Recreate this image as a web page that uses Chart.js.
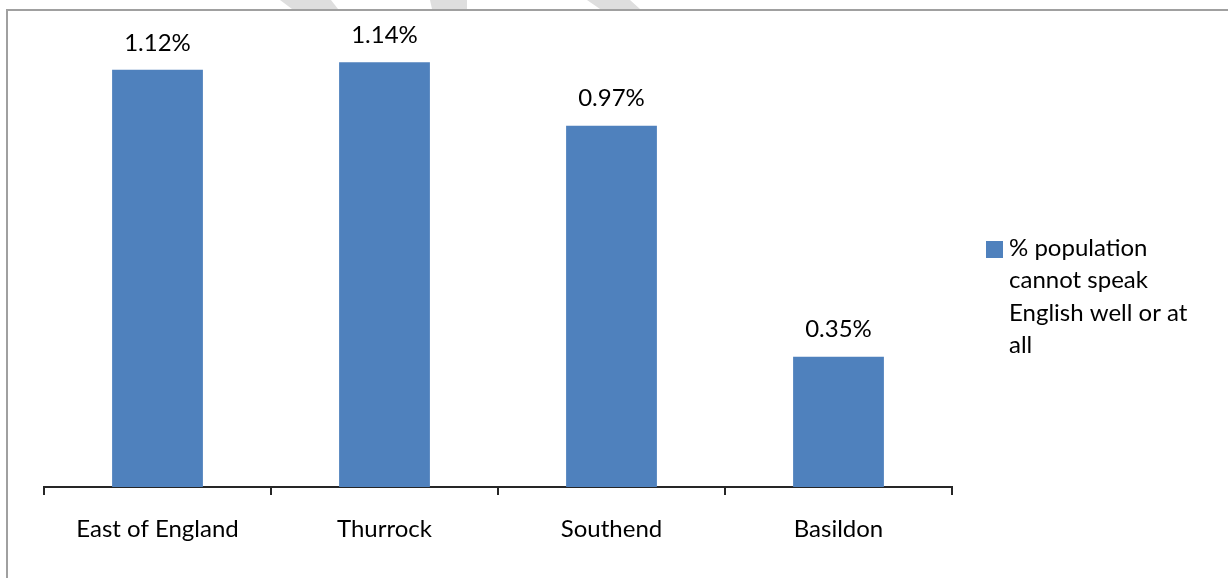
<!DOCTYPE html>
<html>
<head>
<meta charset="utf-8">
<title>Population who cannot speak English well</title>
<script src="https://cdn.jsdelivr.net/npm/chart.js@4.4.0/dist/chart.umd.min.js"></script>
<style>
    html, body { margin: 0; padding: 0; background: #fff; }
    #wrap { position: relative; width: 1228px; height: 578px; }
</style>
</head>
<body>
<div id="wrap"><canvas id="chart" width="1228" height="578"></canvas></div>
<script>
// Chart data
const areas = ['East of England', 'Thurrock', 'Southend', 'Basildon'];
const pctCannotSpeak = [1.12, 1.14, 0.97, 0.35];
const seriesName = '% population cannot speak English well or at all';

const barColour = '#4F81BD';
const fontFamily = 'Lato, "Open Sans", sans-serif';

// Frame lines and the faint shapes behind the top edge
const framePlugin = {
    id: 'frame',
    beforeDraw(chart) {
        const ctx = chart.ctx;
        ctx.save();
        ctx.fillStyle = '#dedede';
        const shapes = [
            [[280, 0], [331, 0], [338, 9], [292, 9]],
            [[430, 0], [467, 0], [467, 9], [432, 9]],
            [[587, 0], [630, 0], [640, 9], [600, 9]]
        ];
        shapes.forEach(pts => {
            ctx.beginPath();
            ctx.moveTo(pts[0][0], pts[0][1]);
            pts.slice(1).forEach(p => ctx.lineTo(p[0], p[1]));
            ctx.closePath();
            ctx.fill();
        });
        ctx.fillStyle = '#fff';
        ctx.fillRect(7, 10, chart.width - 7, chart.height - 10);
        ctx.strokeStyle = '#a0a0a0';
        ctx.lineWidth = 2;
        ctx.beginPath();
        ctx.moveTo(7, chart.height);
        ctx.lineTo(7, 10);
        ctx.lineTo(chart.width, 10);
        ctx.stroke();
        ctx.restore();
    }
};

// Value labels above each bar
const valueLabels = {
    id: 'valueLabels',
    afterDatasetsDraw(chart) {
        const ctx = chart.ctx;
        const meta = chart.getDatasetMeta(0);
        ctx.save();
        ctx.font = '24px ' + fontFamily;
        ctx.fillStyle = '#000';
        ctx.textAlign = 'center';
        ctx.textBaseline = 'middle';
        meta.data.forEach((bar, i) => {
            const v = chart.data.datasets[0].data[i];
            ctx.fillText(v.toFixed(2) + '%', bar.x, bar.y - 27);
        });
        ctx.restore();
    }
};

// Legend on the right, wrapped over several lines
const sideLegend = {
    id: 'sideLegend',
    afterDraw(chart) {
        const ctx = chart.ctx;
        const ds = chart.data.datasets[0];
        const x0 = 986, y0 = 241, box = 17, maxW = 190;
        ctx.save();
        ctx.fillStyle = ds.backgroundColor;
        ctx.fillRect(x0, y0, box, box);
        ctx.font = '24px ' + fontFamily;
        ctx.fillStyle = '#000';
        ctx.textAlign = 'left';
        ctx.textBaseline = 'alphabetic';
        const words = ds.label.split(' ');
        const lines = [];
        let line = '';
        words.forEach(w => {
            const test = line ? line + ' ' + w : w;
            if (ctx.measureText(test).width > maxW && line) {
                lines.push(line);
                line = w;
            } else {
                line = test;
            }
        });
        lines.push(line);
        lines.forEach((l, i) => ctx.fillText(l, 1009, 256 + i * 32.3));
        ctx.restore();
    }
};

new Chart(document.getElementById('chart'), {
    type: 'bar',
    data: {
        labels: areas,
        datasets: [{
            label: seriesName,
            data: pctCannotSpeak,
            backgroundColor: barColour,
            barPercentage: 0.4,
            categoryPercentage: 1.0
        }]
    },
    options: {
        responsive: false,
        animation: false,
        layout: { padding: { left: 44, right: 276, top: 40, bottom: 0 } },
        plugins: {
            legend: { display: false },
            tooltip: { enabled: false }
        },
        scales: {
            y: {
                display: false,
                min: 0,
                max: 1.2
            },
            x: {
                afterFit(scale) { scale.height = 91; },
                border: { display: true, color: '#262626', width: 2 },
                grid: {
                    drawOnChartArea: false,
                    drawTicks: true,
                    tickLength: 8,
                    color: '#262626',
                    lineWidth: 2
                },
                ticks: {
                    color: '#000',
                    padding: 20,
                    font: { family: fontFamily, size: 24 }
                }
            }
        }
    },
    plugins: [framePlugin, valueLabels, sideLegend]
});
</script>
</body>
</html>
